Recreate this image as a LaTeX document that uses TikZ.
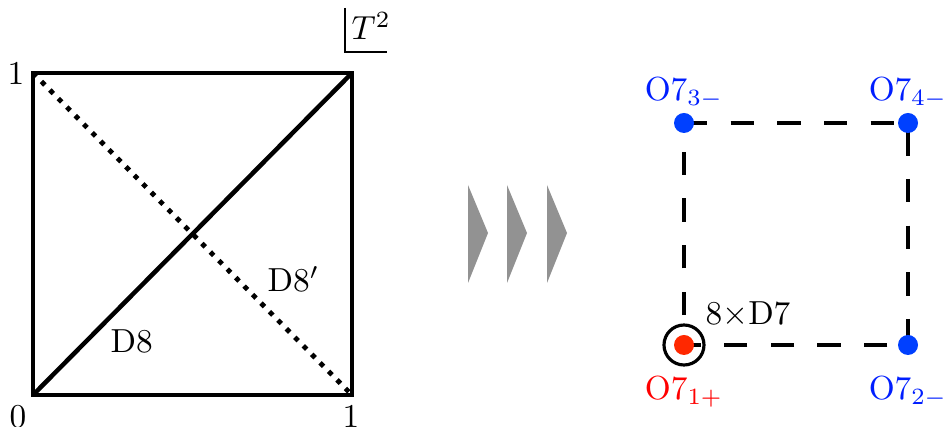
\documentclass[tikz,border=0pt]{standalone}
\begin{document}
\begin{tikzpicture}[x=0.3pt,y=-0.3pt,
  frame/.style={line width=1.35pt},
  dotline/.style={line width=1.45pt,dash pattern=on 1.45pt off 2.15pt},
  dashline/.style={line width=1pt,dash pattern=on 7pt off 7pt},
  lbl/.style={inner sep=0pt,anchor=base},
  chev/.style={fill=chevgray,draw=none},
  bdot/.style={circle,fill=dotblue,inner sep=0pt,minimum size=6pt},
  rdot/.style={circle,fill=dotred,inner sep=0pt,minimum size=6pt}]
\definecolor{chevgray}{RGB}{146,146,146}
\definecolor{dotblue}{RGB}{0,64,255}
\definecolor{dotred}{RGB}{255,40,0}
\definecolor{txtblue}{RGB}{0,30,255}
\definecolor{txtred}{RGB}{255,0,0}
\useasboundingbox (0,0) rectangle (949,427);
% left torus square
\coordinate (bl) at (33,395);
\coordinate (br) at (352,395);
\coordinate (tr) at (352,73);
\coordinate (tl) at (33,73);
\draw[frame] (bl) -- (br) -- (tr) -- (tl) -- cycle;
\draw[frame] (bl) -- (tr);
\draw[dotline] (tl) -- (br);
\node[lbl] (one1) at (16,85) {1};
\node[lbl] (zero) at (18,428) {0};
\node[lbl] (one2) at (351,428) {1};
\node[lbl,anchor=base west] (d8) at (110,353) {D8};
\node[lbl,anchor=base west] (d8p) at (267,292) {D8$'$};
\node[lbl,anchor=base west] (t2) at (351,40) {$T^2$};
\coordinate (c1) at (345,8);
\coordinate (c2) at (345,52);
\coordinate (c3) at (387,52);
\draw[line width=0.6pt] (c1) -- (c2) -- (c3);
% chevrons
\fill[chev] (468,185) -- (488,233) -- (468,283) -- cycle;
\fill[chev] (507,185) -- (527,233) -- (507,283) -- cycle;
\fill[chev] (547,185) -- (567,233) -- (547,283) -- cycle;
% right square
\coordinate (p3) at (684,123);
\coordinate (p4) at (908,123);
\coordinate (p2) at (908,345);
\coordinate (p1) at (684,345);
\draw[dashline] (p3) -- (p4) -- (p2) -- (p1) -- cycle;
\node[bdot] (o3) at (p3) {};
\node[bdot] (o4) at (p4) {};
\node[bdot] (o2) at (p2) {};
\node[rdot] (o1) at (p1) {};
\draw[line width=0.95pt] (p1) circle[radius=20];
\node[lbl,text=txtblue] (l3) at (684,101) {O7$_{3-}$};
\node[lbl,text=txtblue] (l4) at (908,101) {O7$_{4-}$};
\node[lbl,text=txtblue] (l2) at (908,400) {O7$_{2-}$};
\node[lbl,text=txtred] (l1) at (684,400) {O7$_{1+}$};
\node[lbl,anchor=base west] (d7) at (705,325) {$8\times$D7};
\end{tikzpicture}
\end{document}
